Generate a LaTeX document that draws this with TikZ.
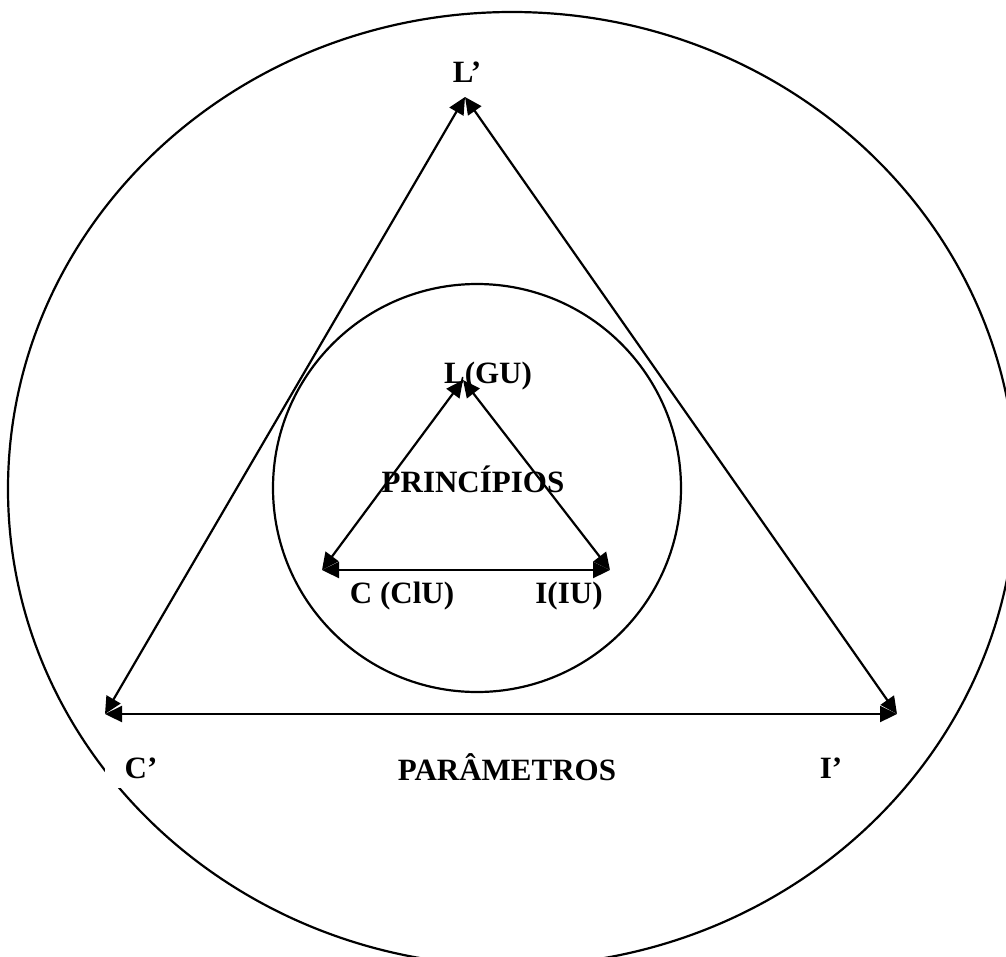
\documentclass[tikz,border=0pt]{standalone}
\usepackage{fontspec}
\setmainfont{Liberation Serif}
\usetikzlibrary{arrows.meta}

\begin{document}
\begin{tikzpicture}[x=1pt, y=-1pt, line width=2.2pt,
    font=\fontsize{31}{37}\selectfont\bfseries,
    tri/.style={{Triangle[length=17pt,width=16pt]}-{Triangle[length=17pt,width=16pt]}},
    lbl/.style={inner sep=0pt, anchor=base}]
  \clip (0,0) rectangle (1006,956);
  % outer and inner rings
  \draw (512,489) ellipse [x radius=504pt, y radius=477pt];
  \draw (477,488) circle [radius=204pt];
  % corners of the two triangles
  \coordinate (Lp) at (465,97);
  \coordinate (Cp) at (105,714);
  \coordinate (Ip) at (897,714);
  \coordinate (Lgu) at (463,380);
  \coordinate (Cclu) at (322,570);
  \coordinate (Iiu) at (610,570);
  \draw[tri] (Lp) -- (Cp);
  \draw[tri] (Lp) -- (Ip);
  \draw[tri] (Cp) -- (Ip);
  \draw[tri] (Lgu) -- (Cclu);
  \draw[tri] (Lgu) -- (Iiu);
  \draw[tri] (Cclu) -- (Iiu);
  % labels
  \node[lbl] (labLp) at (467,82) {L’};
  \node[lbl, fill=white, inner xsep=20pt, inner ysep=10pt] (labCp) at (141,778) {C’};
  \node[lbl] (labIp) at (831,778) {I’};
  \node[lbl] (param) at (507,780) {PARÂMETROS};
  \node[lbl] (labLgu) at (488,383) {L(GU)};
  \node[lbl] (princ) at (473,492) {PRINCÍPIOS};
  \node[lbl] (labCclu) at (402,603) {C (ClU)};
  \node[lbl] (labIiu) at (569,603) {I(IU)};
\end{tikzpicture}
\end{document}
